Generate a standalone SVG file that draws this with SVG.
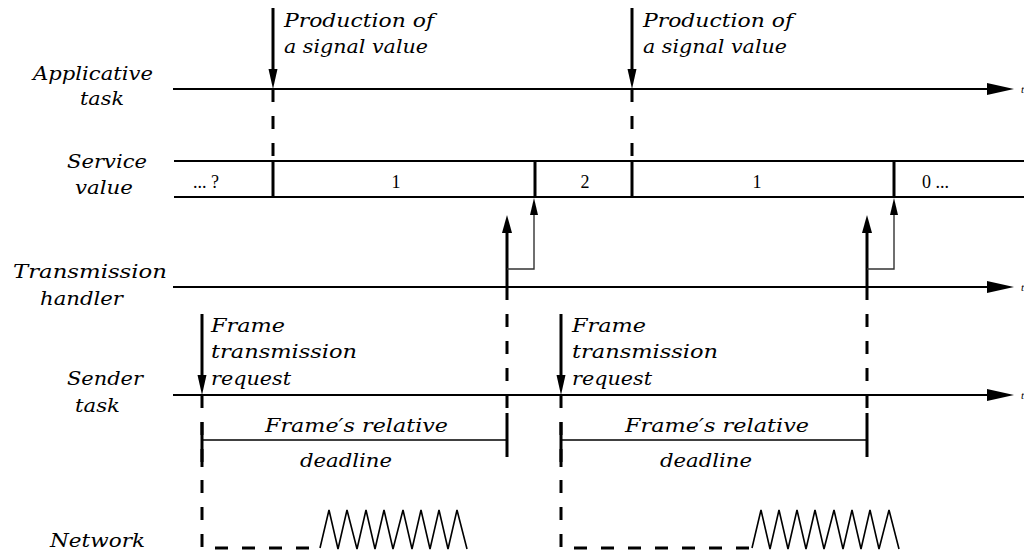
<svg xmlns="http://www.w3.org/2000/svg" width="1024" height="554" viewBox="0 0 1024 554">
<style>
.lbl{font-family:"DejaVu Serif","Liberation Serif",serif;font-style:italic;font-size:18px;fill:#000}
.num{font-family:"Liberation Serif","DejaVu Serif",serif;font-size:18px;fill:#000}
.tt{font-family:"Liberation Serif",serif;font-style:italic;font-size:11px;fill:#000}
.axis{stroke:#000;stroke-width:2;fill:none}
.thick{stroke:#000;stroke-width:3;fill:none}
.dash{stroke:#000;stroke-width:3;fill:none;stroke-dasharray:13 14}
.thin{stroke:#000;stroke-width:1.6;fill:none}
.branch{stroke:#333;stroke-width:1.4;fill:none}
.head{fill:#000;stroke:none}
</style>

<g id="labels">
<text class="lbl" x="33" y="80" textLength="120" lengthAdjust="spacingAndGlyphs">Applicative</text>
<text class="lbl" x="80" y="105" textLength="44" lengthAdjust="spacingAndGlyphs">task</text>
<text class="lbl" x="67" y="168" textLength="80" lengthAdjust="spacingAndGlyphs">Service</text>
<text class="lbl" x="75" y="194" textLength="58" lengthAdjust="spacingAndGlyphs">value</text>
<text class="lbl" x="13" y="278" textLength="154" lengthAdjust="spacingAndGlyphs">Transmission</text>
<text class="lbl" x="40" y="305" textLength="83" lengthAdjust="spacingAndGlyphs">handler</text>
<text class="lbl" x="67" y="385" textLength="76" lengthAdjust="spacingAndGlyphs">Sender</text>
<text class="lbl" x="75" y="412" textLength="45" lengthAdjust="spacingAndGlyphs">task</text>
<text class="lbl" x="50" y="547" textLength="95" lengthAdjust="spacingAndGlyphs">Network</text>
</g>

<g id="axis-applicative">
<line class="axis" x1="173" y1="89" x2="990" y2="89"/>
<polygon class="head" points="987,83 1014,89 987,95"/>
<text class="tt" x="1021" y="93">t</text>
</g>

<g id="axis-service">
<line class="axis" x1="174" y1="161" x2="1024" y2="161"/>
<line class="axis" x1="174" y1="197" x2="1024" y2="197"/>
<text class="num" x="193" y="188">... ?</text>
<text class="num" x="396" y="188" text-anchor="middle">1</text>
<text class="num" x="585" y="188" text-anchor="middle">2</text>
<text class="num" x="757" y="188" text-anchor="middle">1</text>
<text class="num" x="922" y="188">0 ...</text>
<line class="thick" x1="273" y1="161" x2="273" y2="197"/>
<line class="thick" x1="632" y1="161" x2="632" y2="197"/>
<line class="thick" x1="535" y1="161" x2="535" y2="197"/>
<line class="thick" x1="894" y1="161" x2="894" y2="197"/>
</g>

<g id="axis-transmission">
<line class="axis" x1="173" y1="287" x2="990" y2="287"/>
<polygon class="head" points="987,281 1014,287 987,293"/>
<text class="tt" x="1021" y="291">t</text>
</g>

<g id="axis-sender">
<line class="axis" x1="173" y1="395" x2="990" y2="395"/>
<polygon class="head" points="987,389 1014,395 987,401"/>
<text class="tt" x="1021" y="399">t</text>
</g>

<g id="production-1">
<line class="thick" x1="273" y1="8" x2="273" y2="72"/>
<polygon class="head" points="268.5,69 277.5,69 273,89"/>
<line class="dash" x1="273" y1="89" x2="273" y2="161"/>
<text class="lbl" x="284" y="27" textLength="150" lengthAdjust="spacingAndGlyphs">Production of</text>
<text class="lbl" x="284" y="53" textLength="144" lengthAdjust="spacingAndGlyphs">a signal value</text>
</g>

<g id="production-2">
<line class="thick" x1="632" y1="8" x2="632" y2="72"/>
<polygon class="head" points="627.5,69 636.5,69 632,89"/>
<line class="dash" x1="632" y1="89" x2="632" y2="161"/>
<text class="lbl" x="643" y="27" textLength="150" lengthAdjust="spacingAndGlyphs">Production of</text>
<text class="lbl" x="643" y="53" textLength="144" lengthAdjust="spacingAndGlyphs">a signal value</text>
</g>

<g id="request-1">
<line class="thick" x1="202" y1="314" x2="202" y2="378"/>
<polygon class="head" points="197.5,375 206.5,375 202,395"/>
<text class="lbl" x="211" y="332" textLength="74" lengthAdjust="spacingAndGlyphs">Frame</text>
<text class="lbl" x="211" y="358" textLength="146" lengthAdjust="spacingAndGlyphs">transmission</text>
<text class="lbl" x="211" y="385" textLength="80" lengthAdjust="spacingAndGlyphs">request</text>
</g>

<g id="request-2">
<line class="thick" x1="561" y1="314" x2="561" y2="378"/>
<polygon class="head" points="556.5,375 565.5,375 561,395"/>
<text class="lbl" x="572" y="332" textLength="74" lengthAdjust="spacingAndGlyphs">Frame</text>
<text class="lbl" x="572" y="358" textLength="146" lengthAdjust="spacingAndGlyphs">transmission</text>
<text class="lbl" x="572" y="385" textLength="80" lengthAdjust="spacingAndGlyphs">request</text>
</g>

<g id="handler-1">
<line class="thick" x1="507" y1="287" x2="507" y2="230"/>
<polygon class="head" points="502,233 512,233 507,215"/>
<polyline class="branch" points="507,269 534,269 534,212"/>
<polygon class="head" points="530,215 538,215 534,198"/>
<line class="dash" x1="507" y1="287" x2="507" y2="413"/>
</g>

<g id="handler-2">
<line class="thick" x1="867" y1="287" x2="867" y2="230"/>
<polygon class="head" points="862,233 872,233 867,215"/>
<polyline class="branch" points="867,269 894,269 894,212"/>
<polygon class="head" points="890,215 898,215 894,198"/>
<line class="dash" x1="867" y1="287" x2="867" y2="413"/>
</g>

<g id="deadline-1">
<line class="thick" x1="202" y1="422" x2="202" y2="467"/>
<line class="thick" x1="507" y1="413" x2="507" y2="457"/>
<line class="thin" x1="202" y1="440" x2="507" y2="440"/>
<text class="lbl" x="265" y="432" textLength="183" lengthAdjust="spacingAndGlyphs">Frame′s relative</text>
<text class="lbl" x="300" y="467" textLength="92" lengthAdjust="spacingAndGlyphs">deadline</text>
</g>

<g id="deadline-2">
<line class="thick" x1="561" y1="422" x2="561" y2="467"/>
<line class="thick" x1="867" y1="413" x2="867" y2="457"/>
<line class="thin" x1="561" y1="440" x2="867" y2="440"/>
<text class="lbl" x="625" y="432" textLength="184" lengthAdjust="spacingAndGlyphs">Frame′s relative</text>
<text class="lbl" x="660" y="467" textLength="92" lengthAdjust="spacingAndGlyphs">deadline</text>
</g>

<g id="network-1">
<path class="dash" d="M202,395 V467 M202,480 V548 H318"/>
<polyline class="thin" points="320,548 329,510 338,549 347,510 357,549 366,510 375,549 384,510 393,549 403,510 412,549 421,510 430,549 439,510 448,549 457,510 467,549"/>
</g>

<g id="network-2">
<path class="dash" d="M561,395 V467 M561,480 V548 H750"/>
<polyline class="thin" points="752,548 761,510 770,549 779,510 788,549 797,510 806,549 815,510 824,549 834,510 843,549 852,510 861,549 870,510 879,549 889,510 899,549"/>
</g>
</svg>
